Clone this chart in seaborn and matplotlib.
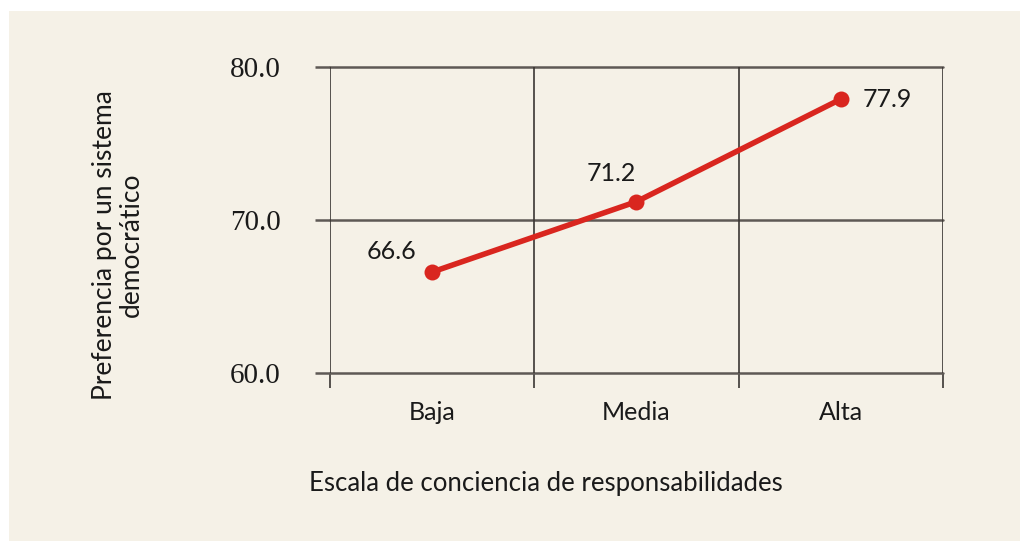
import matplotlib
matplotlib.use("Agg")
import matplotlib.pyplot as plt
import seaborn as sns
import pandas as pd
from matplotlib.patches import Rectangle

# data
niveles = ["Baja", "Media", "Alta"]
preferencia = [66.6, 71.2, 77.9]
yticks = [60.0, 70.0, 80.0]

bg = "#f5f1e7"
red = "#d9261f"

sns.set_style("white")
plt.rcParams['font.family'] = ['Lato', 'DejaVu Sans']

data = pd.DataFrame({"nivel": niveles, "pref": preferencia})

fig = plt.figure(figsize=(10.25, 5.44), dpi=100)
fig.patch.set_facecolor("white")
fig.patches.append(Rectangle((9 / 1025, 1 - 541 / 544), 1011 / 1025, 530 / 544,
                             transform=fig.transFigure, facecolor=bg,
                             edgecolor="none", zorder=-10))
ax = fig.add_axes([330 / 1025, 1 - 373 / 544, 613 / 1025, 306 / 544])
ax.set_facecolor(bg)

sns.lineplot(data=data, x="nivel", y="pref", ax=ax, color=red, linewidth=4,
             marker="o", markersize=11.5, markeredgewidth=0, zorder=5)

ax.set_xlim(-0.5, 2.5)
ax.set_ylim(60, 80)

# horizontal grid lines with ticks sticking out to the left
ax.set_yticks(yticks)
ax.set_yticklabels([f"{v:.1f}" for v in yticks], family="Liberation Serif",
                   fontsize=21, color="#1a1a1a")
for v in yticks:
    ax.axhline(v, color="#5e5955", linewidth=1.8, zorder=1, clip_on=False)
ax.tick_params(axis="y", left=True, length=10.5, width=1.8, color="#5e5955", pad=25)

# vertical lines at category boundaries, ticks below
ax.set_xticks([-0.5, 0.5, 1.5, 2.5])
ax.set_xticklabels([])
for b in [-0.5, 0.5, 1.5, 2.5]:
    ax.axvline(b, color="#3a3633", linewidth=1.2, zorder=1)
ax.tick_params(axis="x", bottom=True, length=11, width=1.2, color="#3a3633")
ax.set_xticks([0, 1, 2], minor=True)
ax.set_xticklabels(niveles, minor=True, fontsize=18, color="#1a1a1a")
ax.tick_params(axis="x", which="minor", bottom=True, length=0, pad=20)

for s in ax.spines.values():
    s.set_visible(False)
ax.set_xlabel("")
ax.set_ylabel("")

# value labels
offsets = [(-41, 21), (-25, 28), (22, 0)]
for i, (v, off) in enumerate(zip(preferencia, offsets)):
    ax.annotate(f"{v:.1f}", (i, v), xytext=off, textcoords="offset pixels",
                ha="center" if i < 2 else "left", va="center",
                fontsize=18, color="#1a1a1a")

fig.text(546 / 1025, 1 - 483 / 544, "Escala de conciencia de responsabilidades",
         fontsize=18.5, color="#1a1a1a", ha="center", va="center")
fig.text(118 / 1025, 1 - 245 / 544, "Preferencia por un sistema\ndemocrático",
         fontsize=19, color="#1a1a1a", ha="center", va="center",
         rotation=90, linespacing=1.05)

fig.savefig("out.png", dpi=100, facecolor="white")
